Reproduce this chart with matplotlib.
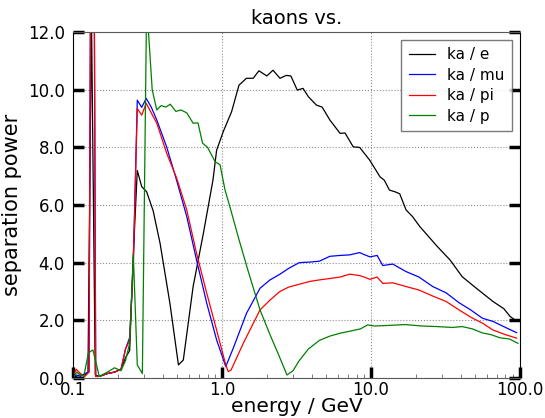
import matplotlib
matplotlib.use("Agg")
import matplotlib.pyplot as plt
from matplotlib.ticker import FixedLocator, FormatStrFormatter, LogLocator, NullFormatter

# energies (GeV) and separation power
e_ele = [0.100, 0.110, 0.120, 0.126, 0.133, 0.141, 0.150, 0.170, 0.190, 0.210, 0.225,
         0.240, 0.254, 0.270, 0.289, 0.312, 0.345, 0.384, 0.447, 0.510, 0.550, 0.640,
         0.750, 0.870, 0.920, 1.02, 1.16, 1.30, 1.46, 1.62, 1.77, 2.00, 2.20, 2.45, 2.70,
         2.90, 3.20, 3.50, 3.80, 4.30, 4.70, 5.30, 6.20, 6.70, 7.60, 8.40, 9.80, 11.5,
         12.3, 13.3, 14.5, 15.6, 17.2, 19.0, 21.3, 25.0, 28.0, 34.0, 41.0, 51.0, 66.0,
         78.0, 86.0, 95.0]
v_ele = [0.00, 0.10, 0.10, 0.20, 12.5, 0.10, 0.05, 0.15, 0.20, 0.30, 0.70,
         0.95, 4.30, 7.20, 6.64, 6.46, 5.80, 4.67, 2.59, 0.45, 0.62, 3.17,
         5.02, 6.87, 7.90, 8.55, 9.24, 10.16, 10.40, 10.40, 10.66, 10.48, 10.68, 10.40, 10.50,
         10.48, 9.99, 10.05, 9.76, 9.47, 9.40, 8.95, 8.49, 8.50, 8.02, 8.00, 7.56, 6.98,
         6.86, 6.52, 6.46, 6.39, 5.83, 5.60, 5.25, 4.84, 4.55, 4.09, 3.51, 3.11, 2.65,
         2.40, 2.13, 1.97]

e_mu = [0.100, 0.105, 0.112, 0.120, 0.128, 0.135, 0.142, 0.150, 0.170, 0.190, 0.210,
        0.225, 0.240, 0.254, 0.270, 0.289, 0.310, 0.335, 0.365, 0.425, 0.495, 0.580,
        0.675, 0.790, 0.920, 1.06, 1.19, 1.46, 1.80, 2.10, 2.45, 2.80, 3.30, 3.90, 4.50,
        5.30, 6.20, 7.20, 8.40, 9.00, 9.85, 11.0, 12.0, 14.0, 17.2, 21.0, 26.0, 32.0,
        39.0, 47.0, 56.0, 66.0, 80.0, 95.0]
v_mu = [0.05, 0.10, 0.05, 0.15, 0.20, 30.0, 0.05, 0.05, 0.15, 0.20, 0.30,
        1.00, 1.40, 4.00, 9.64, 9.39, 9.70, 9.40, 8.95, 8.02, 6.87, 5.60,
        4.09, 2.59, 1.32, 0.39, 1.03, 2.24, 3.11, 3.40, 3.60, 3.80, 4.00, 4.02, 4.05,
        4.22, 4.25, 4.27, 4.35, 4.28, 4.20, 4.25, 3.90, 3.95, 3.69, 3.50, 3.17, 2.95,
        2.61, 2.35, 2.07, 1.96, 1.75, 1.57]

e_pi = [0.100, 0.105, 0.112, 0.120, 0.128, 0.135, 0.142, 0.150, 0.170, 0.190, 0.210,
        0.225, 0.240, 0.254, 0.270, 0.289, 0.310, 0.335, 0.365, 0.425, 0.495, 0.580,
        0.675, 0.790, 0.920, 1.06, 1.10, 1.15, 1.39, 1.80, 2.10, 2.45, 2.80, 3.30, 3.90,
        4.50, 5.30, 6.20, 7.20, 8.40, 9.00, 9.85, 11.0, 12.0, 14.0, 17.2, 21.0, 26.0,
        32.0, 39.0, 47.0, 56.0, 66.0, 80.0, 95.0]
v_pi = [0.05, 0.30, 0.15, 0.05, 0.20, 30.0, 0.05, 0.05, 0.15, 0.20, 0.30,
        1.00, 1.30, 4.00, 9.35, 9.12, 9.53, 9.20, 8.84, 7.80, 6.95, 5.83,
        4.32, 2.94, 1.66, 0.45, 0.22, 0.27, 1.20, 2.36, 2.70, 3.00, 3.15, 3.25, 3.35,
        3.40, 3.45, 3.50, 3.60, 3.55, 3.50, 3.42, 3.50, 3.28, 3.30, 3.17, 3.05, 2.84,
        2.65, 2.36, 2.10, 1.90, 1.66, 1.50, 1.38]

e_p = [0.100, 0.106, 0.112, 0.118, 0.127, 0.136, 0.150, 0.170, 0.190, 0.210, 0.225,
       0.240, 0.254, 0.270, 0.292, 0.312, 0.340, 0.365, 0.390, 0.420, 0.450, 0.490,
       0.530, 0.580, 0.640, 0.690, 0.740, 0.800, 0.900, 0.970, 1.05, 1.13, 1.30, 1.50,
       1.80, 2.10, 2.40, 2.73, 3.00, 3.30, 3.80, 4.50, 5.30, 6.20, 7.20, 8.50, 9.50,
       10.5, 13.0, 17.0, 22.0, 28.0, 35.0, 41.0, 48.0, 56.0, 64.0, 73.6, 85.0, 97.0]
v_p = [0.00, 0.20, 0.10, 0.05, 0.87, 0.97, 0.05, 0.20, 0.35, 0.25, 0.60,
       1.20, 4.27, 0.45, 0.15, 13.0, 10.00, 9.30, 9.45, 9.40, 9.50, 9.25,
       9.30, 9.20, 8.84, 8.85, 8.15, 8.00, 7.50, 7.40, 6.50, 5.94, 4.80, 3.70,
       2.36, 1.50, 0.80, 0.10, 0.25, 0.60, 1.00, 1.30, 1.45, 1.55, 1.62, 1.70, 1.84,
       1.80, 1.82, 1.85, 1.80, 1.78, 1.75, 1.78, 1.70, 1.56, 1.50, 1.39, 1.35, 1.20]

labels = ["ka / e", "ka / mu", "ka / pi", "ka / p"]
colors = ["black", "blue", "red", "green"]

fig = plt.figure(figsize=(5.45, 4.18), dpi=100)
ax = fig.add_axes([0.134, 0.096, 0.820, 0.827])

series = [(e_ele, v_ele), (e_mu, v_mu), (e_pi, v_pi), (e_p, v_p)]
for (xs, ys), lab, col in zip(series, labels, colors):
    ax.plot(xs, ys, color=col, lw=0.9, label=lab)

ax.set_xscale("log")
ax.set_xlim(0.1, 100)
ax.set_ylim(0, 12)

ax.xaxis.set_major_locator(FixedLocator([0.1, 1, 10, 100]))
ax.xaxis.set_major_formatter(FormatStrFormatter("%.1f"))
ax.xaxis.set_minor_locator(LogLocator(base=10, subs=range(2, 10)))
ax.xaxis.set_minor_formatter(NullFormatter())
ax.yaxis.set_major_locator(FixedLocator([0, 2, 4, 6, 8, 10, 12]))
ax.yaxis.set_major_formatter(FormatStrFormatter("%.1f"))

ax.tick_params(axis="both", which="major", direction="in", length=8, width=2.5,
               color="black", labelsize=12)
ax.tick_params(axis="x", which="major", pad=2)
ax.tick_params(axis="y", which="major", right=True, pad=6)
ax.tick_params(axis="x", which="minor", direction="in", length=3, width=0.6,
               color="0.4")

ax.grid(True, which="major", ls=":", color="0.55", lw=0.8)

for s in ["left", "right"]:
    ax.spines[s].set_color("black")
for s in ["top", "bottom"]:
    ax.spines[s].set_color("0.35")

ax.set_title("kaons vs.", fontsize=14)
ax.set_xlabel("energy / GeV", fontsize=14.5, labelpad=-1)
ax.set_ylabel("separation power", fontsize=15)

leg = ax.legend(loc="upper right", fontsize=11, fancybox=False, handlelength=1.7,
                borderpad=0.5, labelspacing=0.35)
leg.get_frame().set_edgecolor("0.35")

fig.savefig("out.png", dpi=100)
